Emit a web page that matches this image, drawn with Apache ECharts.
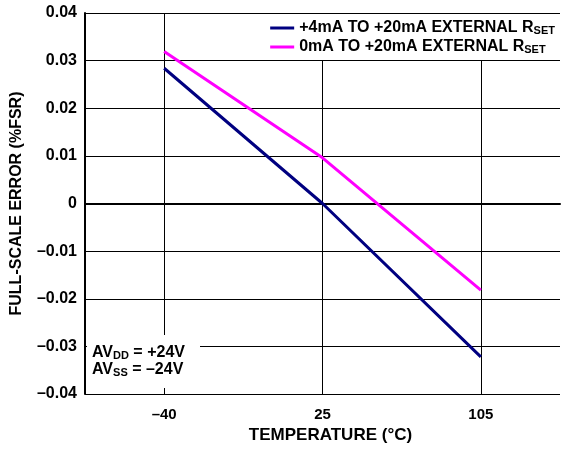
<!DOCTYPE html>
<html><head><meta charset="utf-8">
<script src="https://cdn.jsdelivr.net/npm/echarts@6/dist/echarts.min.js"></script>
<style>html,body{margin:0;padding:0;background:#fff}#c{width:561px;height:450px}</style>
</head><body><div id="c"></div>
<script>
// Data
const temperatures = ['-40', '25', '105'];
const series4to20 = [0.0284, 0.0, -0.0322];   // +4mA TO +20mA EXTERNAL RSET
const series0to20 = [0.0319, 0.0096, -0.0182]; // 0mA TO +20mA EXTERNAL RSET
const yTicks = { min: -0.04, max: 0.04, step: 0.01 };
const seriesNames = ['+4mA TO +20mA EXTERNAL RSET', '0mA TO +20mA EXTERNAL RSET'];

// Build half-step categories so each temperature sits centred in its band
const categories = [''];
temperatures.forEach(t => { categories.push(t); categories.push(''); });
function spread(vals) {
  const out = [null];
  vals.forEach(v => { out.push(v); out.push(null); });
  return out;
}
const FONT = '"Liberation Sans", Arial, Helvetica, sans-serif';
const minus = s => String(s).replace('-', '\u2013');

const chart = echarts.init(document.getElementById('c'), null, { renderer: 'canvas' });
chart.setOption({
  animation: false,
  backgroundColor: '#fff',
  textStyle: { fontFamily: FONT, fontWeight: 'bold', color: '#000' },
  grid: { left: 85, right: 1, top: 13, bottom: 56, containLabel: false },
  xAxis: {
    type: 'category',
    data: categories,
    boundaryGap: false,
    name: 'TEMPERATURE (\u00B0C)',
    nameLocation: 'middle',
    nameGap: 26,
    nameTextStyle: { fontFamily: FONT, fontWeight: 'bold', fontSize: 17, color: '#000', padding: [0, 0, 0, 16] },
    axisLine: { lineStyle: { color: '#000', width: 2 } },
    axisTick: { show: false },
    axisLabel: {
      interval: i => i % 2 === 1,
      formatter: v => minus(v),
      margin: 13, fontFamily: FONT, fontWeight: 'bold', fontSize: 15, color: '#000'
    },
    splitLine: { show: true, interval: i => i % 2 === 1, lineStyle: { color: '#000', width: 1 } }
  },
  yAxis: {
    type: 'value',
    min: yTicks.min, max: yTicks.max, interval: yTicks.step,
    name: 'FULL-SCALE ERROR (%FSR)',
    nameLocation: 'middle',
    nameGap: 60,
    nameRotate: 90,
    nameTextStyle: { fontFamily: FONT, fontWeight: 'bold', fontSize: 16, color: '#000' },
    axisLine: { show: true, lineStyle: { color: '#000', width: 2 } },
    axisTick: { show: false },
    axisLabel: {
      margin: 8, fontFamily: FONT, fontWeight: 'bold', fontSize: 16, color: '#000',
      formatter: v => {
        if (Math.abs(v) < 1e-9) return '0';
        return v < 0 ? '\u2013' + Math.abs(v).toFixed(2) : v.toFixed(2);
      }
    },
    splitLine: { show: true, lineStyle: { color: '#000', width: 1 } }
  },
  legend: {
    orient: 'vertical',
    right: 0, top: 14,
    itemWidth: 24, itemHeight: 3, itemGap: 3,
    icon: 'rect',
    backgroundColor: '#fff',
    padding: [6, 6, 5, 10],
    data: seriesNames,
    formatter: n => n.replace('RSET', 'R{sub|SET}'),
    textStyle: {
      fontFamily: FONT, fontWeight: 'bold', fontSize: 16, color: '#000', lineHeight: 16,
      rich: { sub: { fontFamily: FONT, fontWeight: 'bold', fontSize: 11, color: '#000', verticalAlign: 'bottom', padding: [9, 0, 0, 0] } }
    }
  },
  graphic: [
    { type: 'rect', left: 87, top: 335, shape: { width: 113, height: 53 }, style: { fill: '#fff' }, z: 10 },
    { type: 'text', left: 92, top: 344, z: 11,
      style: {
        text: 'AV{sub|DD} = +24V\nAV{sub|SS} = \u201324V',
        fontFamily: FONT, fontWeight: 'bold', fontSize: 16, fill: '#000', lineHeight: 17,
        rich: { sub: { fontFamily: FONT, fontWeight: 'bold', fontSize: 11, fill: '#000', verticalAlign: 'bottom', padding: [9, 0, 0, 0] } }
      } }
  ],
  series: [
    { name: seriesNames[0], type: 'line', data: spread(series4to20), connectNulls: true, symbol: 'none',
      lineStyle: { color: '#000080', width: 3 }, itemStyle: { color: '#000080' } },
    { name: seriesNames[1], type: 'line', data: spread(series0to20), connectNulls: true, symbol: 'none',
      lineStyle: { color: '#ff00ff', width: 3 }, itemStyle: { color: '#ff00ff' } }
  ]
});
</script></body></html>
